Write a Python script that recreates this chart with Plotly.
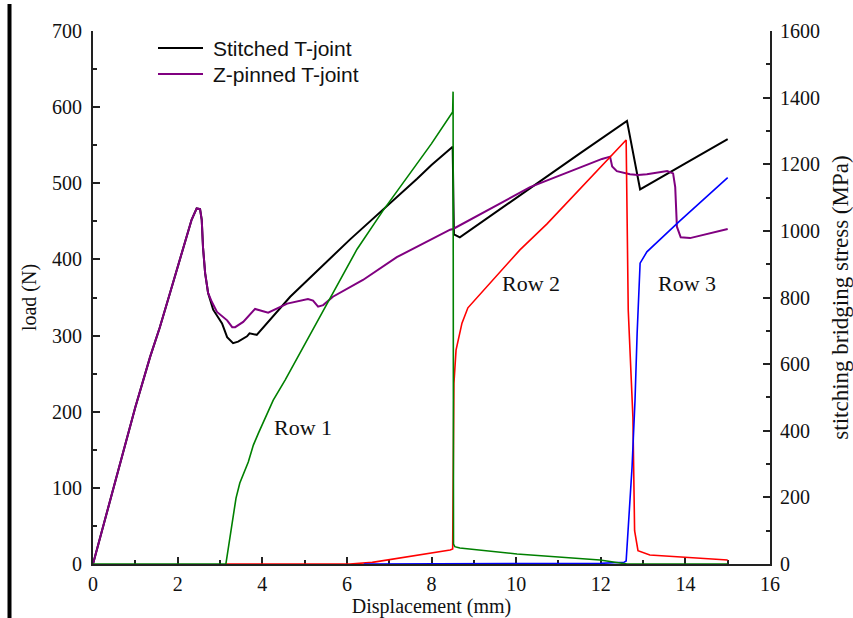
import plotly.graph_objects as go

# Load-displacement curves (left axis, N)
stitched_x = [0, 0.5, 1.0, 1.35, 1.58, 1.82, 2.13, 2.33, 2.45, 2.53, 2.57, 2.60, 2.65, 2.72,
              2.84, 3.05, 3.17, 3.31, 3.43, 3.64, 3.70, 3.76, 3.87, 4.66, 6.07, 7.66, 8.0,
              8.50, 8.51, 8.53, 8.67, 10.0, 11.5, 12.62, 12.93, 14.0, 15.0]
stitched_load = [0, 103, 206, 272, 311, 356, 416, 452, 467, 466, 452, 416, 382, 356,
                 334, 316, 298, 290, 292, 299, 303, 302, 301, 351, 426, 506, 524,
                 548, 474, 433, 429, 481, 539, 582, 492, 526, 558]

pinned_x = [0, 0.5, 1.0, 1.35, 1.58, 1.82, 2.13, 2.33, 2.45, 2.53, 2.57, 2.60, 2.65, 2.72,
            2.81, 2.93, 3.17, 3.29, 3.36, 3.55, 3.83, 4.14, 4.59, 5.08, 5.20, 5.32, 5.44,
            5.67, 6.38, 7.18, 8.44, 8.51, 10.33, 12.03, 12.22, 12.27, 12.38, 12.53, 12.69,
            12.88, 13.09, 13.57, 13.71, 13.76, 13.80, 13.89, 14.11, 15.0]
pinned_load = [0, 103, 206, 272, 311, 356, 416, 452, 467, 466, 452, 416, 382, 356,
               344, 331, 320, 311, 311, 318, 335, 330, 342, 348, 346, 338, 340,
               351, 373, 403, 439, 440, 495, 532, 535, 522, 516, 514, 512,
               511, 512, 516, 513, 495, 443, 429, 428, 440]

# Stitching bridging stress per row (right axis, MPa)
row1_x = [0, 3.14, 3.38, 3.47, 3.67, 3.79, 3.91, 4.26, 4.54, 5.60, 6.24, 6.85, 7.37, 8.0,
          8.50, 8.51, 8.52, 8.55, 8.67, 10.02, 11.98, 12.53, 12.62, 15.0]
row1_stress = [0, 0, 198, 243, 306, 357, 393, 492, 552, 799, 945, 1060, 1153, 1262,
               1357, 1418, 60, 52, 48, 30, 12, 3, 0, 0]

row2_x = [3.14, 6.07, 6.6, 7.26, 8.04, 8.44, 8.50, 8.51, 8.53, 8.58, 8.72, 8.86, 9.31,
          9.62, 10.09, 10.73, 11.82, 12.29, 12.60, 12.65, 12.76, 12.80, 12.88, 13.16, 15.0]
row2_stress = [0, 0, 5, 18, 33, 42, 45, 300, 543, 642, 723, 769, 832,
               874, 943, 1021, 1168, 1231, 1273, 762, 440, 100, 40, 27, 12]

row3_x = [6.4, 12.0, 12.55, 12.6, 12.74, 12.81, 12.86, 12.93, 13.09, 13.87, 15.0]
row3_stress = [0, 2, 5, 9, 291, 492, 693, 903, 937, 1030, 1160]

row_labels = ["Row 1", "Row 2", "Row 3"]
row_label_x = [4.96, 10.35, 14.04]
row_label_load = [179, 369, 369]

legend_names = ["Stitched T-joint", "Z-pinned T-joint"]
legend_colors = ["#000000", "#800080"]

serif = "Liberation Serif"
axis_col = "#222222"
text_col = "#111111"

fig = go.Figure()
fig.add_trace(go.Scatter(x=stitched_x, y=stitched_load, mode="lines", name=legend_names[0],
                         line=dict(color=legend_colors[0], width=2)))
fig.add_trace(go.Scatter(x=pinned_x, y=pinned_load, mode="lines", name=legend_names[1],
                         line=dict(color=legend_colors[1], width=2)))
fig.add_trace(go.Scatter(x=row2_x, y=row2_stress, mode="lines", yaxis="y2", name="Row 2",
                         line=dict(color="#ff0000", width=1.6)))
fig.add_trace(go.Scatter(x=row3_x, y=row3_stress, mode="lines", yaxis="y2", name="Row 3",
                         line=dict(color="#0000ff", width=1.6)))
fig.add_trace(go.Scatter(x=row1_x, y=row1_stress, mode="lines", yaxis="y2", name="Row 1",
                         line=dict(color="#008000", width=1.6)))

for txt, xv, yv in zip(row_labels, row_label_x, row_label_load):
    fig.add_annotation(x=xv, y=yv, xref="x", yref="y", text=txt, showarrow=False,
                       font=dict(family=serif, size=22, color=text_col))

# plot area in pixels: left 93, right 770, top 31, bottom 564
def px_x(p):
    return (p - 93) / 677

def px_y(p):
    return (564 - p) / 533

# legend: short line sample followed by the series name
for i, (nm, col) in enumerate(zip(legend_names, legend_colors)):
    yy = px_y(48 + 26 * i)
    fig.add_shape(type="line", xref="paper", yref="paper", x0=px_x(158), x1=px_x(203),
                  y0=yy, y1=yy, line=dict(color=col, width=2))
    fig.add_annotation(x=px_x(211), y=yy, xref="paper", yref="paper", text=nm,
                       showarrow=False, xanchor="left", yanchor="middle",
                       font=dict(family="Liberation Sans", size=21, color=text_col))

tick_common = dict(ticks="inside", ticklen=7, tickwidth=2, tickcolor=axis_col,
                   showline=True, linewidth=2, linecolor=axis_col, showgrid=False,
                   zeroline=False, tickfont=dict(family=serif, size=20, color=text_col),
                   layer="below traces", automargin=False)

fig.update_layout(
    width=853, height=618,
    margin=dict(l=93, r=83, t=31, b=54),
    paper_bgcolor="white", plot_bgcolor="white",
    showlegend=False,
    xaxis=dict(range=[0, 16], dtick=2, tick0=0, ticklabelstandoff=1,
               minor=dict(dtick=1, ticks="inside", ticklen=4, tickwidth=1.5, tickcolor=axis_col),
               title=dict(text="Displacement (mm)", standoff=0,
                          font=dict(family=serif, size=20, color=text_col)),
               **tick_common),
    yaxis=dict(range=[0, 700], dtick=100, tick0=0, ticklabelstandoff=5,
               minor=dict(dtick=50, ticks="inside", ticklen=4, tickwidth=1.5, tickcolor=axis_col),
               title=dict(text="load (N)", standoff=10,
                          font=dict(family=serif, size=20, color=text_col)),
               **tick_common),
    yaxis2=dict(range=[0, 1600], dtick=200, tick0=0, overlaying="y", side="right",
                ticklabelstandoff=4,
                minor=dict(dtick=100, ticks="inside", ticklen=4, tickwidth=1.5, tickcolor=axis_col),
                title=dict(text="stitching bridging stress (MPa)", standoff=14,
                           font=dict(family=serif, size=23, color=text_col)),
                **tick_common),
)

# heavy vertical rule along the left edge of the page
fig.add_shape(type="rect", xref="paper", yref="paper",
              x0=px_x(7.5), x1=px_x(11.5), y0=px_y(618), y1=px_y(4),
              fillcolor="#000000", line=dict(width=0))

fig.write_html("out.html")
